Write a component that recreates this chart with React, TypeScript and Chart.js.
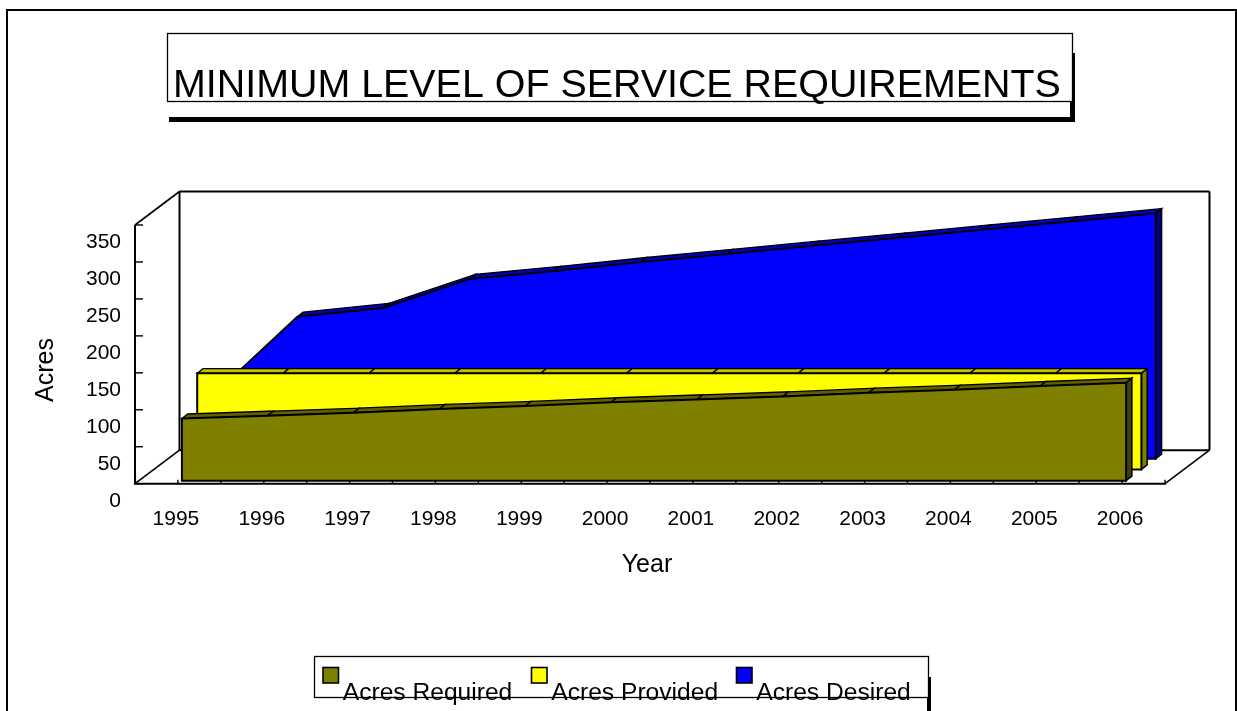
import React, { useEffect, useRef } from "react";
import { Chart, registerables } from "chart.js";

Chart.register(...registerables);

const years = ["1995", "1996", "1997", "1998", "1999", "2000", "2001", "2002", "2003", "2004", "2005", "2006"];
const acresRequired = [84, 88, 92, 97, 101, 106, 110, 114, 119, 123, 128, 132.5];
const acresProvided = [130, 130, 130, 130, 130, 130, 130, 130, 130, 130, 130, 130];
const acresDesired = [84, 192, 204, 243, 254, 266, 277, 288, 299, 310, 321, 332];

const chartTitle = "MINIMUM LEVEL OF SERVICE REQUIREMENTS";
const xTitle = "Year";
const yTitle = "Acres";
const legendSwatchX = [323, 531.5, 736.5];

const FONT = '"Liberation Sans", Arial, sans-serif';

// Per-series 3D styling
const frontOffset = [[4, -3], [19.3, -14.3], [33.7, -25]];
const faceColors = [
  { top: "#606000", side: "#404000" },
  { top: "#bfbf00", side: "#808000" },
  { top: "#0000bf", side: "#000080" },
];
const DEPTH_X = 5.8;
const DEPTH_Y = -4.6;
const WALL_DX = 44.5;
const WALL_DY = -33.5;

const poly = (ctx: CanvasRenderingContext2D, pts: number[][], fill: string, lw = 1.6) => {
  ctx.beginPath();
  pts.forEach((p, i) => (i ? ctx.lineTo(p[0], p[1]) : ctx.moveTo(p[0], p[1])));
  ctx.closePath();
  ctx.fillStyle = fill;
  ctx.fill();
  ctx.lineWidth = lw;
  ctx.strokeStyle = "#000";
  ctx.lineJoin = "miter";
  ctx.stroke();
};

const line = (ctx: CanvasRenderingContext2D, x1: number, y1: number, x2: number, y2: number, lw = 2, color = "#000") => {
  ctx.beginPath();
  ctx.moveTo(x1, y1);
  ctx.lineTo(x2, y2);
  ctx.lineWidth = lw;
  ctx.strokeStyle = color;
  ctx.stroke();
};

const frame3d = {
  id: "frame3d",
  beforeDatasetsDraw(chart: any) {
    const { ctx, chartArea: a, scales } = chart;
    const { x: xs, y: ys } = scales;
    ctx.save();
    ctx.lineCap = "butt";
    line(ctx, a.left + WALL_DX, a.top + WALL_DY, a.right + WALL_DX, a.top + WALL_DY);
    line(ctx, a.left + WALL_DX, a.top + WALL_DY, a.left + WALL_DX, a.bottom + WALL_DY);
    line(ctx, a.right + WALL_DX, a.top + WALL_DY, a.right + WALL_DX, a.bottom + WALL_DY);
    line(ctx, a.left + WALL_DX, a.bottom + WALL_DY, a.right + WALL_DX, a.bottom + WALL_DY);
    line(ctx, a.left, a.top, a.left, a.bottom);
    line(ctx, a.left, a.top, a.left + WALL_DX, a.top + WALL_DY, 1.6);
    line(ctx, a.left, a.bottom, a.left + WALL_DX, a.bottom + WALL_DY, 1.6);
    line(ctx, a.right, a.bottom, a.right + WALL_DX, a.bottom + WALL_DY, 1.6);
    line(ctx, a.left - 1, a.bottom, a.right + 1, a.bottom);
    ys.ticks.forEach((t: any) => {
      const py = ys.getPixelForValue(t.value);
      line(ctx, a.left, py, a.left + 8, py, 1.4);
    });
    const half = (xs.getPixelForValue(1) - xs.getPixelForValue(0)) / 2;
    line(ctx, a.left + 0.5, a.bottom, a.left + 0.5, a.bottom - 4, 1.4);
    years.forEach((_, i) => {
      const px = xs.getPixelForValue(i);
      line(ctx, px, a.bottom, px, a.bottom - 4, 1.4);
      line(ctx, px + half, a.bottom, px + half, a.bottom - 4, 1.4);
    });
    ctx.restore();
  },
  beforeDatasetDraw(chart: any, args: any) {
    const { ctx, scales } = chart;
    const idx = args.index;
    const [dx, dy] = frontOffset[idx];
    const colors = faceColors[idx];
    const base = scales.y.getPixelForValue(0) + dy;
    const pts = args.meta.data.map((p: any) => [p.x + dx, p.y + dy]);
    const last = pts[pts.length - 1];
    ctx.save();
    for (let i = 0; i < pts.length - 1; i++) {
      const a = pts[i];
      const b = pts[i + 1];
      poly(ctx, [a, b, [b[0] + DEPTH_X, b[1] + DEPTH_Y], [a[0] + DEPTH_X, a[1] + DEPTH_Y]], colors.top, 1.3);
    }
    poly(
      ctx,
      [last, [last[0] + DEPTH_X, last[1] + DEPTH_Y], [last[0] + DEPTH_X, base + DEPTH_Y], [last[0], base]],
      colors.side,
      1.5
    );
    poly(ctx, [...pts, [last[0], base], [pts[0][0], base]], chart.data.datasets[idx].backgroundColor, 2);
    ctx.restore();
    return false;
  },
  afterDraw(chart: any) {
    const { ctx } = chart;
    ctx.save();
    ctx.strokeStyle = "#000";
    ctx.lineWidth = 2;
    ctx.strokeRect(7, 10, 1229, 760);

    ctx.fillStyle = "#000";
    ctx.fillRect(169, 117, 906, 5);
    ctx.fillRect(1070, 53, 5, 69);
    ctx.fillStyle = "#fff";
    ctx.fillRect(167.5, 33.5, 905, 68);
    ctx.lineWidth = 1.3;
    ctx.strokeRect(167.5, 33.5, 905, 68);
    ctx.fillStyle = "#000";
    ctx.textAlign = "left";
    ctx.textBaseline = "alphabetic";
    ctx.font = `39.4px ${FONT}`;
    ctx.fillText(chartTitle, 173, 97);

    ctx.font = `25px ${FONT}`;
    ctx.textAlign = "center";
    ctx.textBaseline = "middle";
    ctx.fillText(xTitle, 647, 565);
    ctx.save();
    ctx.translate(46, 370);
    ctx.rotate(-Math.PI / 2);
    ctx.fillText(yTitle, 0, 0);
    ctx.restore();

    ctx.fillStyle = "#000";
    ctx.fillRect(927, 677, 4, 40);
    ctx.fillStyle = "#fff";
    ctx.fillRect(314.5, 656.5, 614, 41);
    ctx.lineWidth = 1.3;
    ctx.strokeRect(314.5, 656.5, 614, 41);
    ctx.font = `24.6px ${FONT}`;
    ctx.textAlign = "left";
    ctx.textBaseline = "alphabetic";
    chart.data.datasets.forEach((d: any, i: number) => {
      const sx = legendSwatchX[i];
      ctx.fillStyle = d.backgroundColor;
      ctx.fillRect(sx, 667.5, 15.5, 15.5);
      ctx.lineWidth = 1.6;
      ctx.strokeStyle = "#000";
      ctx.strokeRect(sx, 667.5, 15.5, 15.5);
      ctx.fillStyle = "#000";
      ctx.fillText(d.label, sx + 19.8, 700);
    });
    ctx.restore();
  },
};

export default function App() {
  const ref = useRef<HTMLCanvasElement>(null);
  useEffect(() => {
    const chart = new Chart(ref.current as HTMLCanvasElement, {
      type: "line",
      data: {
        labels: years,
        datasets: [
          { label: "Acres Required", data: acresRequired, backgroundColor: "#808000", borderColor: "#000" },
          { label: "Acres Provided", data: acresProvided, backgroundColor: "#ffff00", borderColor: "#000" },
          { label: "Acres Desired", data: acresDesired, backgroundColor: "#0000ff", borderColor: "#000" },
        ],
      },
      options: {
        responsive: false,
        animation: false,
        layout: { padding: { top: 225, right: 72, left: 0, bottom: 0 } },
        plugins: { legend: { display: false }, title: { display: false }, tooltip: { enabled: false } },
        elements: { point: { radius: 0 } },
        scales: {
          x: {
            type: "category",
            offset: true,
            grid: { display: false, drawTicks: false },
            border: { display: false },
            ticks: {
              maxRotation: 0,
              autoSkip: false,
              color: "#000",
              padding: 23,
              labelOffset: -2,
              font: { family: FONT, size: 21 },
            },
            afterFit: (s: any) => {
              s.height = 227.3;
            },
          },
          y: {
            type: "linear",
            min: 0,
            max: 350,
            grid: { display: false, drawTicks: false },
            border: { display: false },
            ticks: {
              stepSize: 50,
              color: "#000",
              padding: 14,
              labelOffset: 17.5,
              font: { family: FONT, size: 21 },
            },
            afterFit: (s: any) => {
              s.width = 135;
            },
          },
        },
      },
      plugins: [frame3d],
    } as any);
    return () => chart.destroy();
  }, []);
  return (
    <div style={{ position: "absolute", left: 0, top: 0, width: 1237, height: 711, overflow: "hidden", background: "#fff" }}>
      <canvas ref={ref} width={1237} height={711} style={{ display: "block" }} />
    </div>
  );
}
